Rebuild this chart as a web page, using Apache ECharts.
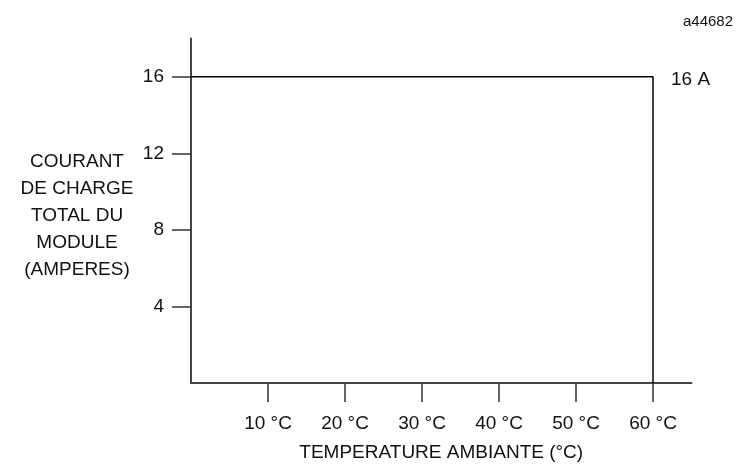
<!DOCTYPE html>
<html>
<head>
<meta charset="utf-8">
<script src="https://cdn.jsdelivr.net/npm/echarts@6/dist/echarts.min.js"></script>
<style>html,body{margin:0;padding:0;background:#fff}#c{width:738px;height:467px}</style>
</head>
<body>
<div id="c"></div>
<script>
var xTicks = [10, 20, 30, 40, 50, 60];
var yTicks = [4, 8, 12, 16];
var curveX = [0, 60, 60];
var curveY = [16, 16, 0];
var endLabel = '16 A';
var xName = 'TEMPERATURE AMBIANTE (°C)';
var yNameLines = ['COURANT', 'DE CHARGE', 'TOTAL DU', 'MODULE', '(AMPERES)'];
var figId = 'a44682';

var font = 'Liberation Sans, Arial, sans-serif';
var chart = echarts.init(document.getElementById('c'), null, {renderer: 'canvas'});
var data = curveX.map(function (x, i) { return [x, curveY[i]]; });
chart.setOption({
  animation: false,
  backgroundColor: '#fff',
  textStyle: {fontFamily: font},
  title: [
    {text: figId, right: 0, top: 9, textStyle: {fontSize: 15, fontWeight: 'normal', color: '#111', fontFamily: font}},
    {text: yNameLines.join('\n'), left: 72, top: 143, textAlign: 'center',
     textStyle: {fontSize: 19, fontWeight: 'normal', color: '#111', lineHeight: 27, fontFamily: font}}
  ],
  grid: {left: 191, right: 46.5, top: 38.5, bottom: 82, containLabel: false},
  xAxis: {
    type: 'value', min: 0, max: 65,
    name: xName, nameLocation: 'middle', nameGap: 60,
    nameTextStyle: {fontSize: 19, color: '#111', fontFamily: font},
    axisLine: {show: true, lineStyle: {color: '#444', width: 2}},
    axisTick: {show: true, length: 19, customValues: xTicks, lineStyle: {color: '#333', width: 1.5}},
    axisLabel: {show: true, customValues: xTicks, margin: 31, fontSize: 19, color: '#111', fontFamily: font,
      formatter: function (v) { return v + ' °C'; }},
    splitLine: {show: false}
  },
  yAxis: {
    type: 'value', min: 0, max: 18,
    axisLine: {show: true, onZero: false, lineStyle: {color: '#444', width: 2}},
    axisTick: {show: true, length: 19, customValues: yTicks, lineStyle: {color: '#333', width: 1.5}},
    axisLabel: {show: true, customValues: yTicks, margin: 27, fontSize: 19, color: '#111', fontFamily: font},
    splitLine: {show: false}
  },
  series: [{
    type: 'line', data: data, symbol: 'none', showSymbol: false,
    lineStyle: {color: '#000', width: 1.5},
    label: {show: false},
    markPoint: {
      symbol: 'circle', symbolSize: 0,
      data: [{coord: [curveX[1], curveY[1]], value: endLabel}],
      label: {show: true, position: 'right', distance: 18, offset: [0, 3], formatter: endLabel,
        fontSize: 19, color: '#111', fontFamily: font}
    }
  }]
});
</script>
</body>
</html>
